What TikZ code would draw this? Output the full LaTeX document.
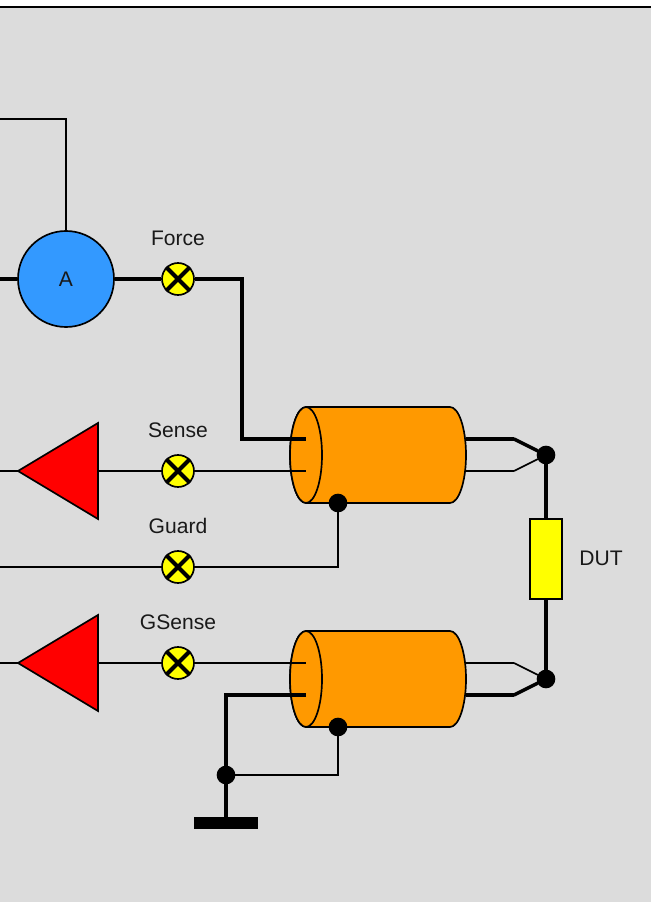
\documentclass[tikz,border=0pt]{standalone}
\usepackage{fontspec}
\setmainfont{Liberation Sans}
\definecolor{panelgrey}{HTML}{DCDCDC}
\definecolor{meterblue}{HTML}{3399FF}
\definecolor{cableorange}{HTML}{FF9900}
\definecolor{lampyellow}{HTML}{FFFF00}
\definecolor{ampred}{HTML}{FF0000}
\tikzset{
  wire/.style={line width=1.25pt},
  bus/.style={line width=2.6pt},
  lbl/.style={font=\fontsize{15.8}{18}\selectfont,text=black!90},
  lamp/.style={circle,draw,line width=1.25pt,fill=lampyellow,minimum size=24pt,inner sep=0pt},
  joint/.style={circle,fill=black,minimum size=14pt,inner sep=0pt,outer sep=0pt},
  meter/.style={circle,draw,line width=1.25pt,fill=meterblue,minimum size=72pt,inner sep=0pt,lbl},
  dutbox/.style={rectangle,draw,line width=1.25pt,fill=lampyellow,minimum width=24pt,minimum height=60pt,inner sep=0pt},
}
\begin{document}
\begin{tikzpicture}[x=.75pt,y=-.75pt,line join=miter]
\useasboundingbox (0,0) rectangle (651,902);
\fill[panelgrey] (0,7) rectangle (651,902);
\draw[wire,line width=1.5pt] (0,7)--(651,7);
% cables
\foreach \n/\y in {up/455,low/679}{
  \draw[wire,fill=cableorange] (306,\y-48)--(450,\y-48) arc (-90:90:16 and 48)--(306,\y+48) arc (90:270:16 and 48);
  \draw[wire,fill=cableorange] (306,\y) ellipse (16 and 48);
  \coordinate (\n T) at (306,\y-16);
  \coordinate (\n B) at (306,\y+16);
  \coordinate (\n RT) at (466,\y-16);
  \coordinate (\n RB) at (466,\y+16);
  \coordinate (\n KT) at (514,\y-16);
  \coordinate (\n KB) at (514,\y+16);
  \node[joint] (\n S) at (338,\y+48) {};
}
% amps
\foreach \n/\y in {senseamp/471,gsenseamp/663}{
  \draw[wire,fill=ampred] (18,\y)--(98,\y-48)--(98,\y+48)--cycle;
  \coordinate (\n I) at (18,\y);
  \coordinate (\n O) at (98,\y);
  \coordinate (\n L) at (0,\y);
}
\node[meter] (meter) at (66,279) {A};
\foreach \n/\y/\t in {force/279/Force,sense/471/Sense,guard/567/Guard,gsense/663/GSense}{
  \node[lamp] (\n) at (178,\y) {};
  \draw[bus,line width=3pt] (\n.45)--(\n.225) (\n.135)--(\n.315);
  \node[lbl] (\n T) at (178,\y-41) {\t};
}
\node[dutbox] (dut) at (546,559) {};
\node[lbl] (dutT) at (601,558) {DUT};
\node[joint] (upD) at (546,455) {};
\node[joint] (lowD) at (546,679) {};
\node[joint] (gnd) at (226,775) {};
\node[rectangle,fill=black,minimum width=48pt,minimum height=9pt,inner sep=0pt] (gbar) at (226,823) {};
\coordinate (topL) at (0,119);
\coordinate (topR) at (66,119);
\coordinate (forceL) at (0,279);
\coordinate (forceK) at (242,279);
\coordinate (forceD) at (242,439);
\coordinate (guardL) at (0,567);
\coordinate (guardK) at (338,567);
\coordinate (gndK) at (226,695);
\coordinate (gndR) at (338,775);
% force path
\draw[wire] (topL)--(topR)--(meter.north);
\draw[bus] (forceL)--(meter.west);
\draw[bus] (meter.east)--(force.west);
\draw[bus] (force.east)--(forceK)--(forceD)--(upT);
% sense and guard
\draw[wire] (senseampL)--(senseampI);
\draw[wire] (senseampO)--(sense.west);
\draw[wire] (sense.east)--(upB);
\draw[wire] (guardL)--(guard.west);
\draw[wire] (guard.east)--(guardK)--(upS);
\draw[wire] (gsenseampL)--(gsenseampI);
\draw[wire] (gsenseampO)--(gsense.west);
\draw[wire] (gsense.east)--(lowT);
% ground
\draw[bus] (lowB)--(gndK)--(gnd)--(gbar);
\draw[wire] (gnd)--(gndR)--(lowS);
% dut side
\draw[bus] (upRT)--(upKT);
\draw[bus,line cap=round] (upKT)--(upD);
\draw[wire] (upRB)--(upKB);
\draw[wire,line cap=round] (upKB)--(upD);
\draw[wire] (lowRT)--(lowKT);
\draw[wire,line cap=round] (lowKT)--(lowD);
\draw[bus] (lowRB)--(lowKB);
\draw[bus,line cap=round] (lowKB)--(lowD);
\draw[bus] (upD)--(dut.north);
\draw[bus] (dut.south)--(lowD);
\end{tikzpicture}
\end{document}
